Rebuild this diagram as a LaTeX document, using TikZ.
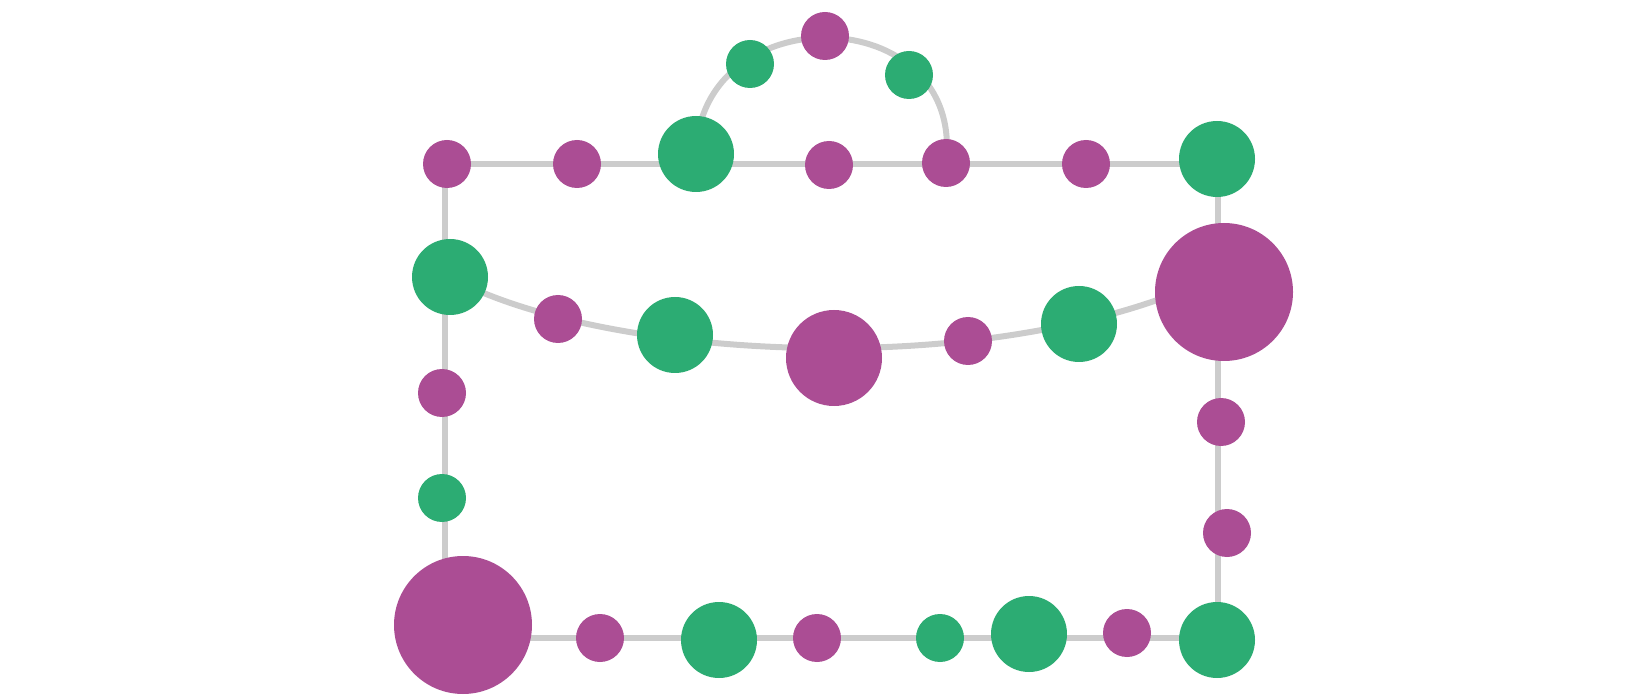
\documentclass[tikz,border=0pt]{standalone}
\usetikzlibrary{backgrounds}
\definecolor{mag}{HTML}{AB4D94}
\definecolor{grn}{HTML}{2CAC73}
\definecolor{edge}{HTML}{CCCCCC}
\begin{document}
\begin{tikzpicture}[x=0.5pt,y=-0.5pt,
  dot/.style={circle,inner sep=0pt,outer sep=0pt,draw=none},
  ms/.style={dot,fill=mag,minimum size=24pt},
  ml/.style={dot,fill=mag,minimum size=48pt},
  mh/.style={dot,fill=mag,minimum size=69pt},
  gs/.style={dot,fill=grn,minimum size=24pt},
  gm/.style={dot,fill=grn,minimum size=38pt},
  link/.style={draw=edge,line width=3pt}]
\useasboundingbox (0,0) rectangle (1650,700);
% top row
\node[ms] (t1) at (447,164) {};
\node[ms] (t2) at (577,164) {};
\node[gm] (t3) at (696,154) {};
\node[ms] (t4) at (829,165) {};
\node[ms] (t5) at (946,163) {};
\node[ms] (t6) at (1086,164) {};
\node[gm] (t7) at (1217,159) {};
% arc
\node[gs] (a1) at (750,64) {};
\node[ms] (a2) at (825,36) {};
\node[gs] (a3) at (909,75) {};
% left column
\node[gm] (l1) at (450,277) {};
\node[ms] (l2) at (442,393) {};
\node[gs] (l3) at (442,498) {};
\node[mh] (bl) at (463,625) {};
% middle curve
\node[ms] (m1) at (558,319) {};
\node[gm] (m2) at (675,335) {};
\node[ml] (m3) at (834,358) {};
\node[ms] (m4) at (968,341) {};
\node[gm] (m5) at (1079,324) {};
\node[mh] (rb) at (1224,292) {};
% right column
\node[ms] (r1) at (1221,422) {};
\node[ms] (r2) at (1227,533) {};
\node[gm] (br) at (1217,640) {};
% bottom row
\node[ms] (b1) at (600,638) {};
\node[gm] (b2) at (719,640) {};
\node[ms] (b3) at (817,638) {};
\node[gs] (b4) at (940,638) {};
\node[gm] (b5) at (1029,634) {};
\node[ms] (b6) at (1127,633) {};
% frame corners
\coordinate (c1) at (445,164);
\coordinate (c2) at (1218,164);
\coordinate (c3) at (1218,638);
\coordinate (c4) at (445,638);
\begin{scope}[on background layer]
\draw[link] (c1) -- (c2) -- (c3) -- (c4) -- cycle;
\draw[link] (t3.center) .. controls (700,-5) and (965,0) .. (t5.center);
\draw[link] (l1.center) .. controls (600,360) and (1000,385) .. ([yshift=10pt]rb.center);
\end{scope}
\end{tikzpicture}
\end{document}
